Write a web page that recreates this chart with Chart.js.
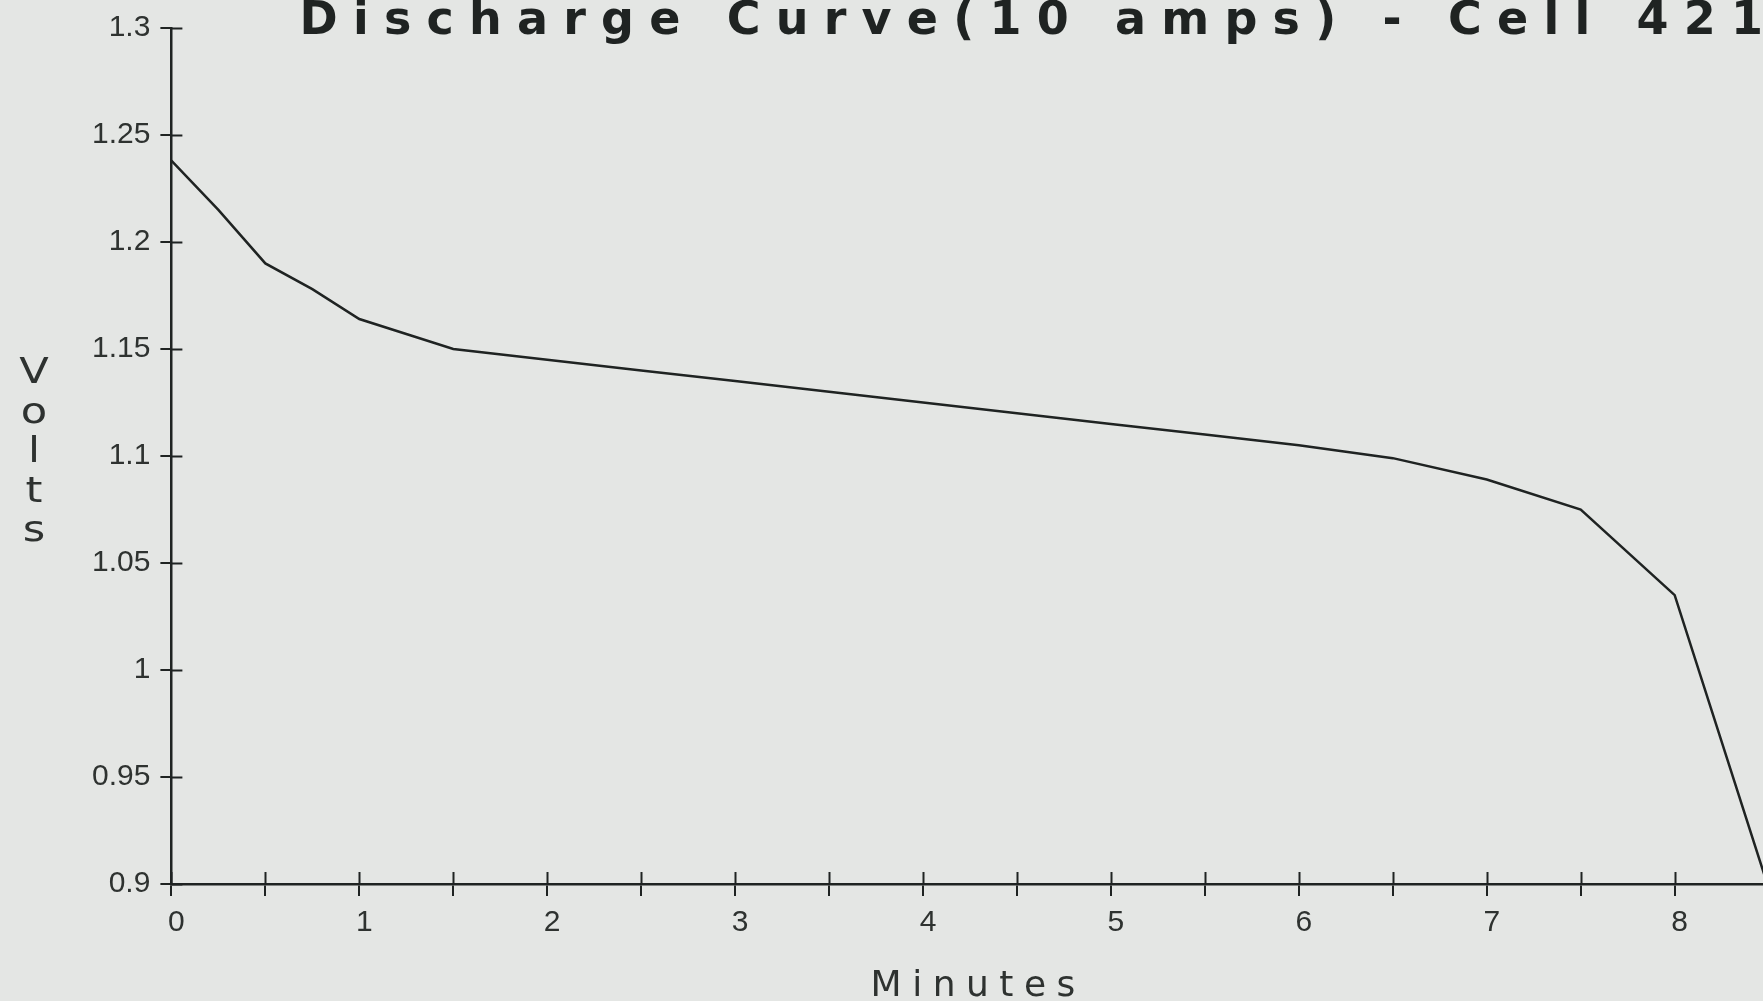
<!DOCTYPE html>
<html>
<head>
<meta charset="utf-8">
<title>Discharge Curve</title>
<script src="https://cdn.jsdelivr.net/npm/chart.js@4"></script>
<style>
    html, body { margin: 0; padding: 0; background: #e4e6e4; overflow: hidden; }
    canvas { display: block; }
</style>
</head>
<body>
<canvas id="dischargeChart" width="1763" height="1001"></canvas>
<script>
// Leituras da curva de descarga (minutos x volts).
const minutes = [0, 0.25, 0.5, 0.75, 1, 1.25, 1.5, 2, 2.5, 3, 3.5, 4, 4.5, 5, 5.5, 6, 6.5, 7, 7.5, 8, 8.5];
const volts = [1.238, 1.215, 1.190, 1.178, 1.164, 1.157, 1.150, 1.145, 1.140, 1.135, 1.130, 1.125, 1.120, 1.115, 1.110, 1.105, 1.099, 1.089, 1.075, 1.035, 0.898];

// Marcas dos eixos.
const minuteTicks = [0, 0.5, 1, 1.5, 2, 2.5, 3, 3.5, 4, 4.5, 5, 5.5, 6, 6.5, 7, 7.5, 8];
const voltTicks = [0.9, 0.95, 1, 1.05, 1.1, 1.15, 1.2, 1.25, 1.3];

const chartTitle = 'Discharge Curve(10 amps) - Cell 421';
const xTitle = 'Minutes';
const yTitle = 'Volts';

const ink = '#1f2322';
const labelInk = '#2e3230';

// Marcas que atravessam o eixo (o Chart.js só desenha a parte de fora).
const innerTicks = {
    id: 'innerTicks',
    afterDatasetsDraw(chart) {
        const { ctx, chartArea, scales: { x, y } } = chart;
        ctx.save();
        ctx.strokeStyle = ink;
        ctx.lineWidth = 2;
        ctx.beginPath();
        x.ticks.forEach(t => {
            const px = Math.round(x.getPixelForValue(t.value)) + 0.5;
            ctx.moveTo(px, chartArea.bottom);
            ctx.lineTo(px, chartArea.bottom - 12);
        });
        y.ticks.forEach(t => {
            const py = Math.round(y.getPixelForValue(t.value)) + 0.5;
            ctx.moveTo(chartArea.left, py);
            ctx.lineTo(chartArea.left + 11, py);
        });
        ctx.stroke();
        ctx.restore();
    }
};

// Título do eixo Y com letras empilhadas, como no original.
const stackedYTitle = {
    id: 'stackedYTitle',
    afterDraw(chart) {
        const { ctx, chartArea } = chart;
        const mid = (chartArea.top + chartArea.bottom) / 2;
        ctx.save();
        ctx.font = '36px "DejaVu Sans"';
        ctx.fillStyle = labelInk;
        ctx.textAlign = 'center';
        ctx.textBaseline = 'alphabetic';
        yTitle.split('').forEach((ch, i) => {
            ctx.save();
            ctx.translate(34, mid - 73 + i * 39.5);
            ctx.scale(1.2, 1);
            ctx.fillText(ch, 0, 0);
            ctx.restore();
        });
        ctx.restore();
    }
};

const ctx = document.getElementById('dischargeChart').getContext('2d');
const chart = new Chart(ctx, {
    type: 'line',
    data: {
        datasets: [{
            data: minutes.map((m, i) => ({ x: m, y: volts[i] })),
            borderColor: ink,
            borderWidth: 2.5,
            pointRadius: 0,
            tension: 0,
            fill: false
        }]
    },
    options: {
        responsive: false,
        animation: false,
        events: [],
        layout: { padding: { left: 82, right: 0, top: 0, bottom: 0 } },
        plugins: {
            legend: { display: false },
            tooltip: { enabled: false },
            title: {
                display: true,
                text: chartTitle,
                align: 'end',
                color: ink,
                font: { family: '"DejaVu Sans", sans-serif', size: 46, weight: 'bold', lineHeight: 1 },
                padding: { top: -3, bottom: -17 }
            }
        },
        scales: {
            x: {
                type: 'linear',
                min: 0,
                max: 8.47,
                afterBuildTicks: scale => { scale.ticks = minuteTicks.map(v => ({ value: v })); },
                ticks: {
                    color: labelInk,
                    font: { family: '"Liberation Sans", Arial, sans-serif', size: 30 },
                    padding: 9,
                    labelOffset: 5,
                    maxRotation: 0,
                    autoSkip: false,
                    callback: v => (v % 1 === 0 ? String(v) : '')
                },
                grid: { drawOnChartArea: false, color: ink, lineWidth: 2, tickLength: 12 },
                border: { display: true, color: ink, width: 2.5 },
                title: {
                    display: true,
                    text: xTitle,
                    color: labelInk,
                    font: { family: '"DejaVu Sans", sans-serif', size: 36, lineHeight: 1 },
                    padding: { top: 19, bottom: -4 }
                }
            },
            y: {
                type: 'linear',
                min: 0.9,
                max: 1.3,
                afterBuildTicks: scale => { scale.ticks = voltTicks.map(v => ({ value: v })); },
                ticks: {
                    color: labelInk,
                    font: { family: '"Liberation Sans", Arial, sans-serif', size: 30 },
                    padding: 10,
                    autoSkip: false,
                    callback: v => String(+v.toFixed(2))
                },
                grid: { drawOnChartArea: false, color: ink, lineWidth: 2, tickLength: 11 },
                border: { display: true, color: ink, width: 2.5 }
            }
        }
    },
    plugins: [innerTicks, stackedYTitle]
});

// O título e o "Minutes" do original têm letras bem espaçadas.
const spaced = (target, method, spacing, shift) => {
    const original = target[method];
    target[method] = function (...args) {
        const c = this.ctx;
        c.save();
        c.letterSpacing = spacing + 'px';
        c.translate(shift, 0);
        original.apply(this, args);
        c.restore();
    };
};
spaced(chart.titleBlock, 'draw', 15.2, 15.2);
spaced(chart.scales.x, 'drawTitle', 10.5, 11);
chart.draw();
</script>
</body>
</html>
